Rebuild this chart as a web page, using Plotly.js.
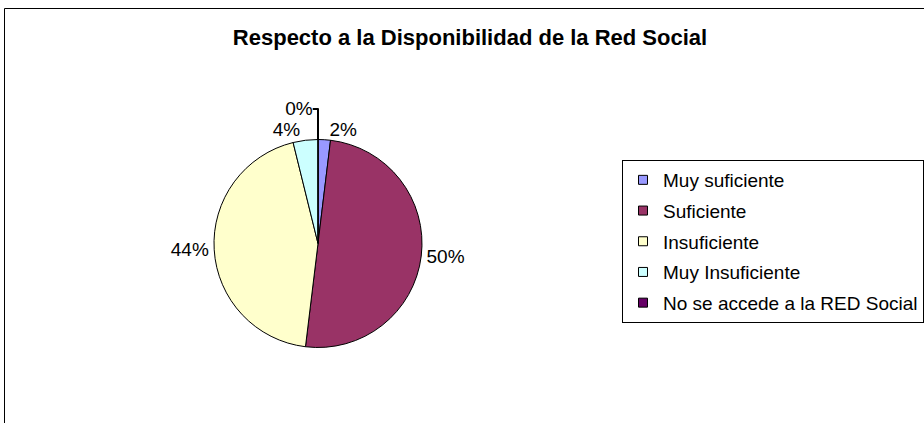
<!DOCTYPE html>
<html>
<head>
<meta charset="utf-8">
<script src="https://cdn.plot.ly/plotly-3.0.1.min.js"></script>
<style>html,body{margin:0;padding:0;background:#fff;}#chart{width:924px;height:423px;}</style>
</head>
<body>
<div id="chart"></div>
<script>
const categories = ["Muy suficiente", "Suficiente", "Insuficiente", "Muy Insuficiente", "No se accede a la RED Social"];
const values = [1, 26, 23, 2, 0];
const colors = ["#9999FF", "#993366", "#FFFFCC", "#CCFFFF", "#660066"];
const chartTitle = "Respecto a la Disponibilidad de la Red Social";

const W = 924, H = 423;
const FONT = "Arial, 'Liberation Sans', sans-serif";

const pie = {
  type: "pie",
  labels: categories,
  values: values,
  sort: false,
  direction: "clockwise",
  rotation: 0,
  marker: { colors: colors, line: { color: "#000000", width: 1 } },
  textinfo: "percent",
  texttemplate: "%{percent:.0%}",
  textposition: "outside",
  outsidetextfont: { family: FONT, size: 19, color: "#000000" },
  automargin: false,
  showlegend: false,
  hoverinfo: "label+percent",
  domain: { x: [214 / W, 422 / W], y: [75.5 / H, 283.5 / H] }
};

// legend entries (one per category, same colours as the slices)
const legendEntries = categories.map((c, i) => ({
  type: "scatter", mode: "markers",
  x: [null], y: [null],
  name: c, legendgroup: "g" + i,
  marker: { symbol: "square", size: 9, color: colors[i], line: { color: "#000000", width: 1 } },
  showlegend: true, hoverinfo: "skip"
}));

const layout = {
  width: W, height: H,
  margin: { l: 0, r: 0, t: 0, b: 0, autoexpand: false },
  paper_bgcolor: "#ffffff",
  plot_bgcolor: "rgba(0,0,0,0)",
  font: { family: FONT, color: "#000000" },
  xaxis: { visible: false, fixedrange: true },
  yaxis: { visible: false, fixedrange: true },
  title: {
    text: chartTitle,
    font: { family: FONT, size: 22, weight: "bold", color: "#000000" },
    x: 470 / W, xanchor: "center", xref: "paper",
    y: 1 - 37.5 / H, yanchor: "middle", yref: "container"
  },
  showlegend: true,
  legend: {
    x: 622 / W, xanchor: "left",
    y: 1 - 160 / H, yanchor: "top",
    bgcolor: "#ffffff",
    bordercolor: "#000000", borderwidth: 1,
    font: { family: FONT, size: 19, color: "#000000" },
    traceorder: "grouped",
    tracegroupgap: 3
  },
  shapes: [{
    type: "rect", xref: "paper", yref: "paper",
    x0: 4.5 / W, x1: 1.1, y0: 1 - 8.5 / H, y1: -0.1,
    line: { color: "#000000", width: 1 }, fillcolor: "rgba(0,0,0,0)", layer: "below"
  }]
};

Plotly.newPlot("chart", [pie].concat(legendEntries), layout, { displayModeBar: false, staticPlot: true });
</script>
</body>
</html>
